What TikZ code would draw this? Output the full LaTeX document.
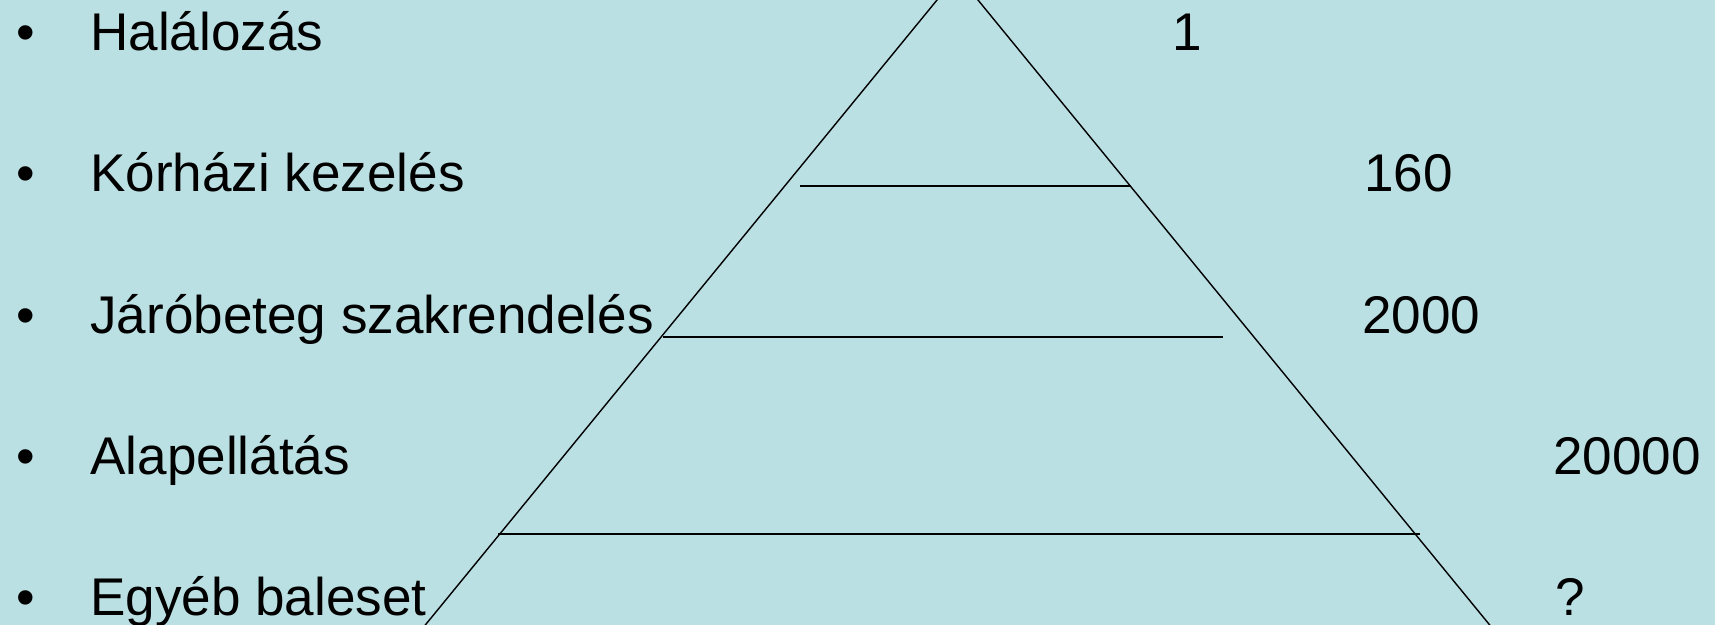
\documentclass[tikz,border=0pt]{standalone}
\usepackage{fontspec}
\setmainfont{Liberation Sans}
\usetikzlibrary{positioning}
\definecolor{slidebg}{RGB}{187,224,227}

\begin{document}
\begin{tikzpicture}[x=0.02cm, y=-0.02cm,
  lvl/.style={anchor=base west, inner sep=0pt, font={\fontsize{30.2}{36}\selectfont}},
  dot/.style={anchor=base, inner sep=0pt, font={\fontsize{30.2}{36}\selectfont}},
  pyredge/.style={line width=0.8pt},
  lvledge/.style={line width=1.1pt}
]
\clip (0,0) rectangle (1715,625);
\fill[slidebg] (0,0) rectangle (1715,625);
% pyramid
\coordinate (apex) at (957.5,-25);
\coordinate (bl) at (413,640);
\coordinate (br) at (1502,640);
\draw[pyredge] (bl) -- (apex) -- (br);
\coordinate (s1a) at (800,186);
\coordinate (s1b) at (1131,186);
\coordinate (s2a) at (663,337);
\coordinate (s2b) at (1223,337);
\coordinate (s3a) at (498,534);
\coordinate (s3b) at (1420,534);
\draw[lvledge] (s1a) -- (s1b);
\draw[lvledge] (s2a) -- (s2b);
\draw[lvledge] (s3a) -- (s3b);
% list
\node[dot] (b1) at (26,51) {•};
\node[dot] (b2) at (26,192) {•};
\node[dot] (b3) at (26,333) {•};
\node[dot] (b4) at (26,474) {•};
\node[dot] (b5) at (26,615) {•};
\node[lvl] (t1) at (90,51) {Halálozás};
\node[lvl] (t2) at (90,192) {Kórházi kezelés};
\node[lvl] (t3) at (90,333) {Járóbeteg szakrendelés};
\node[lvl] (t4) at (90,474) {Alapellátás};
\node[lvl] (t5) at (90,615) {Egyéb baleset};
% numbers
\node[lvl] (n1) at (1172,51) {1};
\node[lvl] (n2) at (1364,192) {160};
\node[lvl] (n3) at (1362,333) {2000};
\node[lvl] (n4) at (1553,474) {20000};
\node[lvl] (n5) at (1555,615) {?};
\end{tikzpicture}
\end{document}
